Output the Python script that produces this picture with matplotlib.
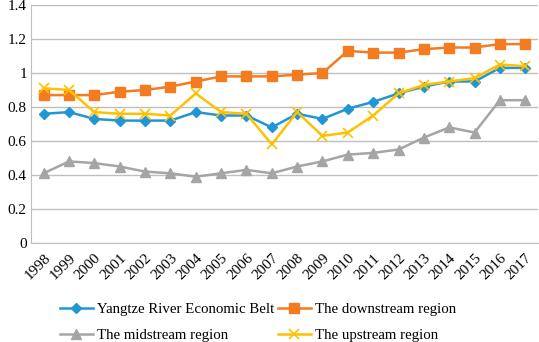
import numpy as np
import matplotlib.pyplot as plt

plt.rcParams['font.family'] = ['Liberation Serif', 'DejaVu Serif']

years = [str(y) for y in range(1998, 2018)]

belt = [0.76, 0.77, 0.73, 0.72, 0.72, 0.72, 0.77, 0.75, 0.75, 0.68,
        0.76, 0.73, 0.79, 0.83, 0.88, 0.92, 0.95, 0.95, 1.03, 1.03]
downstream = [0.87, 0.87, 0.87, 0.89, 0.90, 0.92, 0.95, 0.98, 0.98, 0.98,
              0.99, 1.00, 1.13, 1.12, 1.12, 1.14, 1.15, 1.15, 1.17, 1.17]
midstream = [0.41, 0.48, 0.47, 0.45, 0.42, 0.41, 0.39, 0.41, 0.43, 0.41,
             0.45, 0.48, 0.52, 0.53, 0.55, 0.62, 0.68, 0.65, 0.84, 0.84]
upstream = [0.91, 0.90, 0.77, 0.76, 0.76, 0.75, 0.88, 0.77, 0.76, 0.58,
            0.77, 0.63, 0.65, 0.75, 0.88, 0.93, 0.95, 0.97, 1.05, 1.04]

fig = plt.figure(figsize=(5.39, 3.42), dpi=100)
ax = fig.add_axes([31 / 539, 1 - 243 / 342, 1 - 31 / 539 - 0.002, 238 / 342])

x = np.arange(len(years))
lw = 1.8
l1, = ax.plot(x, belt, color='#2196D5', lw=lw, marker='D', ms=5.5,
              label='Yangtze River Economic Belt')
l2, = ax.plot(x, downstream, color='#F47B20', lw=lw, marker='s', ms=7,
              label='The downstream region')
l3, = ax.plot(x, midstream, color='#A5A5A5', lw=lw, marker='^', ms=7,
              label='The midstream region')
l4, = ax.plot(x, upstream, color='#FFC000', lw=lw, marker='x', ms=7, mew=1.2,
              label='The upstream region')

ax.set_xlim(-0.5, len(years) - 0.5)
ax.set_ylim(0, 1.4)
ax.set_yticks(np.arange(0, 1.41, 0.2))
ax.set_yticklabels(['0', '0.2', '0.4', '0.6', '0.8', '1', '1.2', '1.4'])
ax.set_xticks(x)
ax.set_xticklabels(years, rotation=45, ha='right', rotation_mode='anchor')
ax.tick_params(axis='both', length=0, labelsize=11, pad=3)
ax.tick_params(axis='x', pad=6)
ax.yaxis.grid(True, color='#BFBFBF', lw=1)
ax.set_axisbelow(True)
for s in ['top', 'right']:
    ax.spines[s].set_visible(False)
for s in ['left', 'bottom']:
    ax.spines[s].set_color('#BFBFBF')

# legend fills row by row in the reference
handles = [l1, l3, l2, l4]
fig.legend(handles, [h.get_label() for h in handles],
           loc='upper left', bbox_to_anchor=(60 / 539, 1 - 303 / 342),
           ncol=2, frameon=False, fontsize=10.7, handlelength=2.2,
           handletextpad=0.27, columnspacing=0.27, labelspacing=0.82,
           borderpad=0, borderaxespad=0)

fig.savefig('out.png', dpi=100)
